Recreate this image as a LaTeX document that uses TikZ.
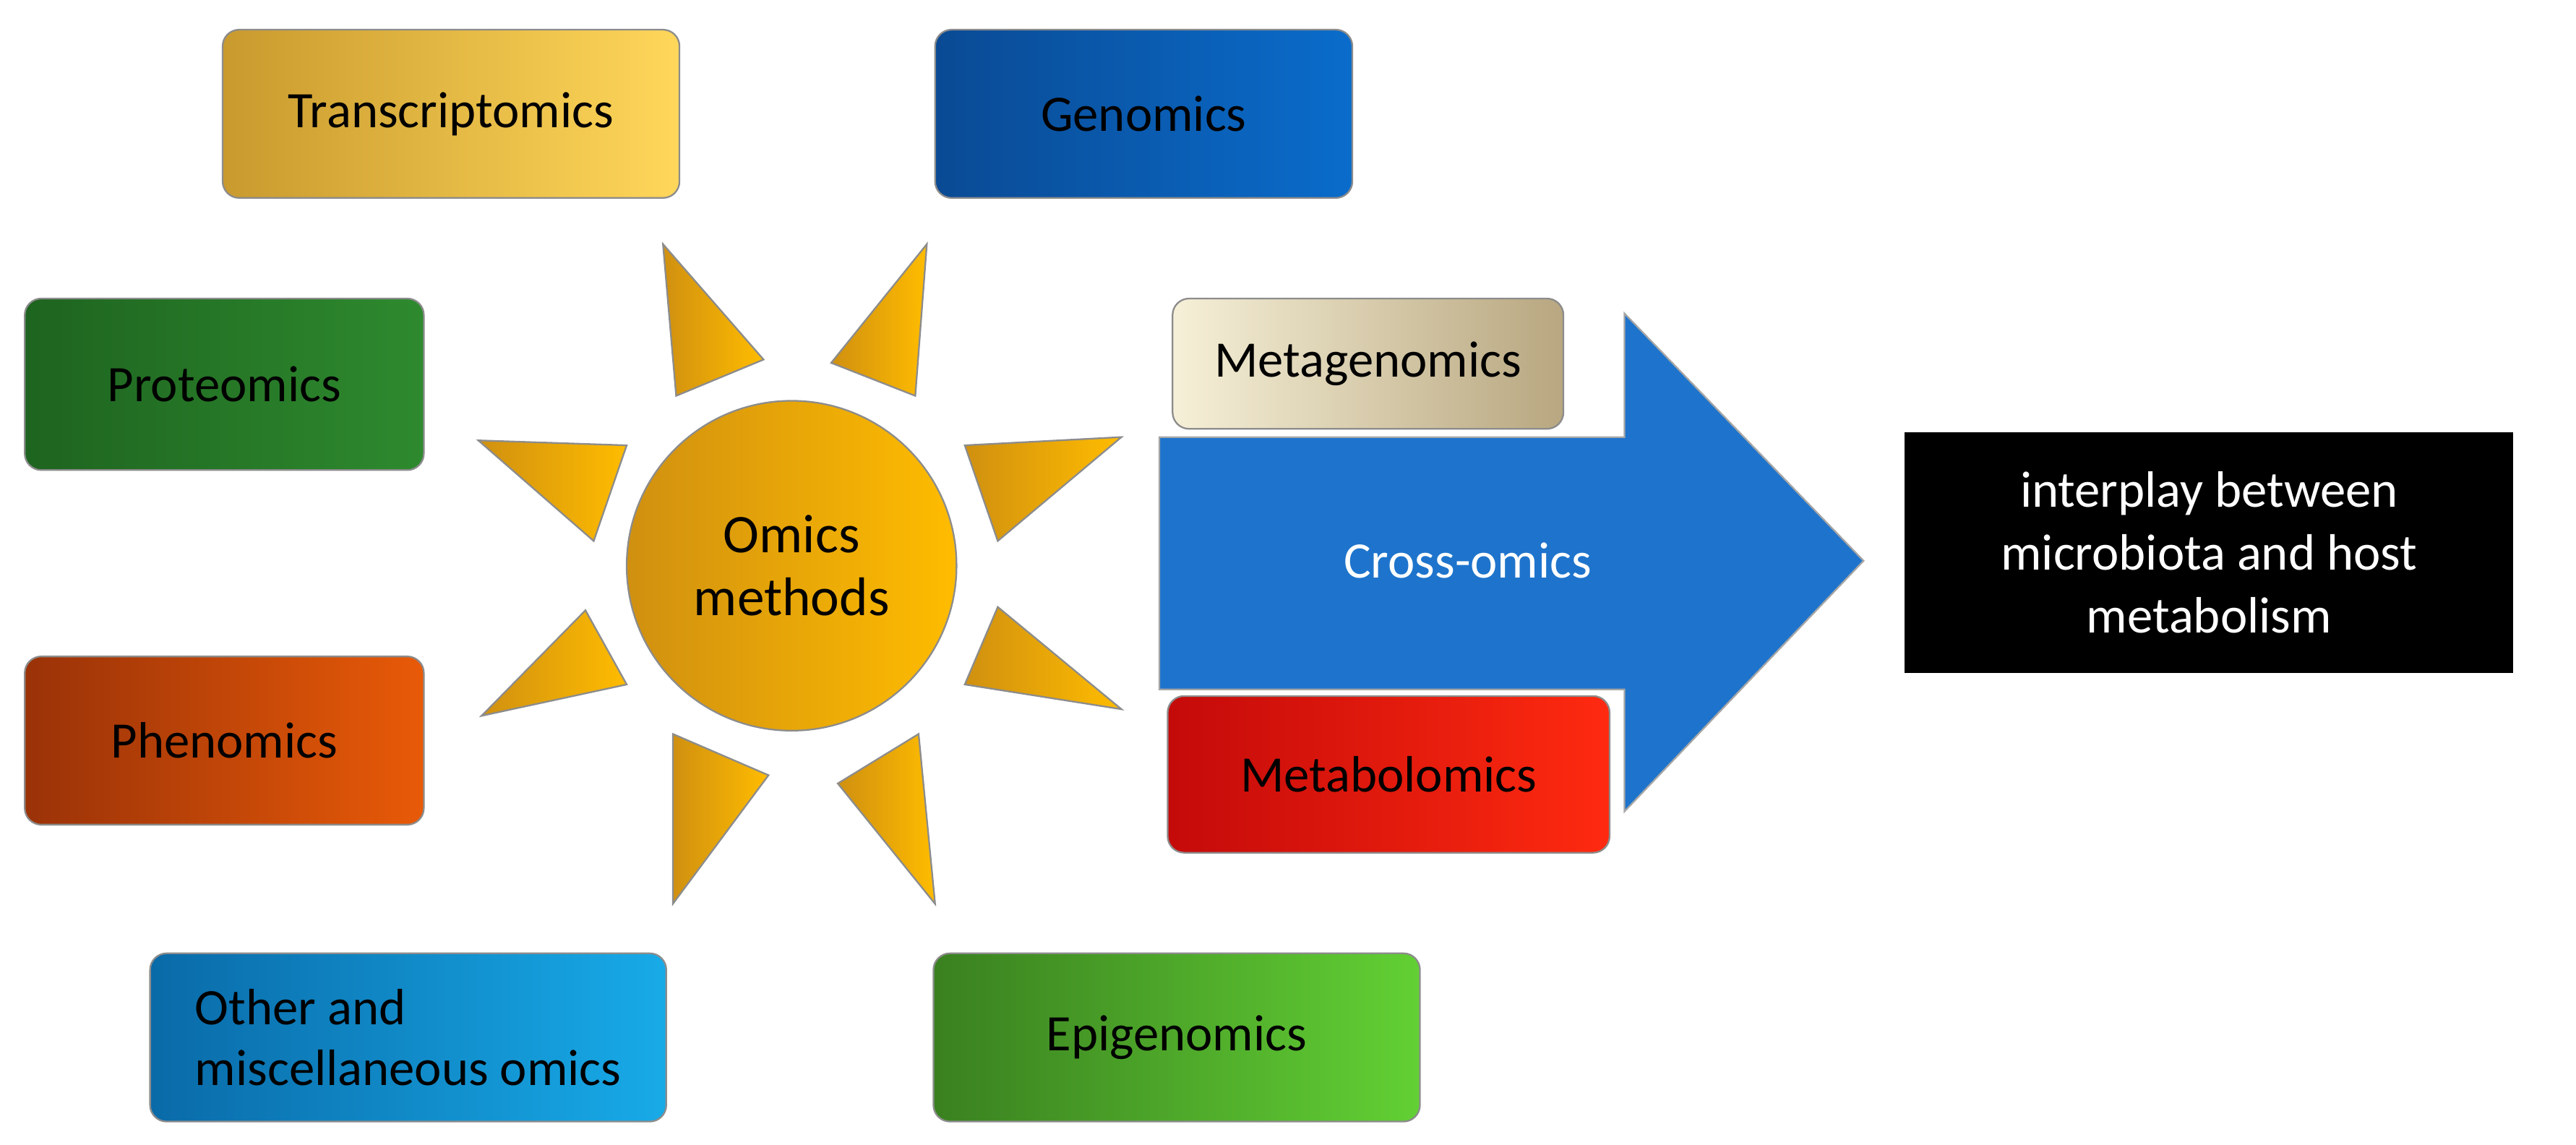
\documentclass[tikz,border=0pt]{standalone}
\usepackage{fontspec}
\setmainfont{Carlito}
\usetikzlibrary{shapes.geometric}
\definecolor{gA}{HTML}{C99A2E}\definecolor{gB}{HTML}{FFD75A}
\definecolor{bA}{HTML}{0A4A94}\definecolor{bB}{HTML}{0A6CCB}
\definecolor{pA}{HTML}{1E6420}\definecolor{pB}{HTML}{2E8A2E}
\definecolor{hA}{HTML}{9A3208}\definecolor{hB}{HTML}{E85A08}
\definecolor{oA}{HTML}{0A6AA8}\definecolor{oB}{HTML}{18AAE8}
\definecolor{eA}{HTML}{3A8020}\definecolor{eB}{HTML}{62D034}
\definecolor{rA}{HTML}{D09010}\definecolor{rB}{HTML}{FFBC00}
\definecolor{mA}{HTML}{F6F0D8}\definecolor{mB}{HTML}{B8A780}
\definecolor{kA}{HTML}{C40A0A}\definecolor{kB}{HTML}{FF2A10}
\definecolor{arr}{HTML}{1E74CC}
\begin{document}
\begin{tikzpicture}[x=1pt,y=-1pt,
  box/.style={draw=black!45,line width=1pt,rounded corners=10pt,font=\fontsize{31}{37}\selectfont,text=black,shading angle=60},
  ray/.style={draw=black!45,line width=1pt,left color=rA,right color=rB}]
\useasboundingbox (0,0) rectangle (1562,694);
\node[box,left color=gA,right color=gB,minimum width=277pt,minimum height=102pt] (tr) at (273.5,69) {Transcriptomics};
\node[box,left color=bA,right color=bB,minimum width=253pt,minimum height=102pt] (ge) at (693.5,69) {Genomics};
\node[box,left color=pA,right color=pB,minimum width=242pt,minimum height=104pt] (pr) at (136,233) {Proteomics};
\node[box,left color=hA,right color=hB,minimum width=242pt,minimum height=102pt] (ph) at (136,449) {Phenomics};
\node[box,left color=oA,right color=oB,minimum width=313pt,minimum height=102pt,align=left] (ot) at (247.5,629) {Other and\\miscellaneous omics};
\node[box,left color=eA,right color=eB,minimum width=295pt,minimum height=102pt] (ep) at (713.5,629) {Epigenomics};
\path[ray] (402,148)--(463,218)--(410,240)--cycle;
\path[ray] (562,148)--(504,220)--(555,240)--cycle;
\path[ray] (290,267)--(380,270)--(360,328)--cycle;
\path[ray] (292,434)--(355,370)--(380,415)--cycle;
\path[ray] (680,265)--(585,270)--(605,328)--cycle;
\path[ray] (680,430)--(605,368)--(585,415)--cycle;
\path[ray] (408,548)--(408,445)--(466,470)--cycle;
\path[ray] (567,548)--(508,475)--(557,445)--cycle;
\node[circle,draw=black!45,line width=1pt,minimum size=200pt,left color=rA,right color=rB,font=\fontsize{33}{38}\selectfont,align=center] (om) at (480,343) {Omics\\methods};
\filldraw[fill=arr,draw=black!35,line width=1pt] (703,265)--(985,265)--(985,190)--(1130,340)--(985,492)--(985,418)--(703,418)--cycle;
\node[font=\fontsize{31}{37}\selectfont,text=white] (co) at (890,340) {Cross-omics};
\node[box,left color=mA,right color=mB,minimum width=237pt,minimum height=79pt] (mg) at (829.5,220.5) {Metagenomics};
\node[box,left color=kA,right color=kB,minimum width=268pt,minimum height=95pt] (mb) at (842,469.5) {Metabolomics};
\node[fill=black,text=white,minimum width=369pt,minimum height=146pt,align=center,font=\fontsize{31}{38}\selectfont] (ip) at (1339.5,335) {interplay between\\microbiota and host\\metabolism};
\end{tikzpicture}
\end{document}
